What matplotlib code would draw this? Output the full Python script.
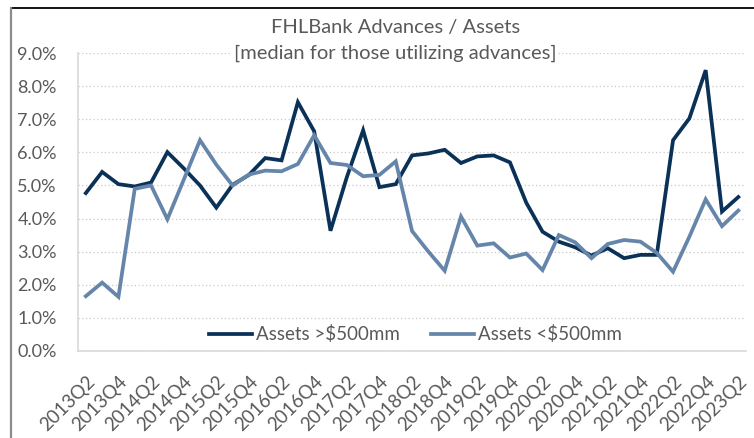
import matplotlib.pyplot as plt
import matplotlib.ticker as mtick
from matplotlib.lines import Line2D

plt.rcParams['font.family'] = ['Lato', 'DejaVu Sans']

quarters = []
for yr in range(2013, 2024):
    for q in range(1, 5):
        if (yr == 2013 and q < 2) or (yr == 2023 and q > 2):
            continue
        quarters.append('%dQ%d' % (yr, q))

big = [4.77, 5.41, 5.04, 4.97, 5.09, 6.01, 5.52, 5.00, 4.33, 5.02,
       5.32, 5.83, 5.76, 7.52, 6.64, 3.63, 5.25, 6.67, 4.95, 5.04,
       5.91, 5.97, 6.08, 5.68, 5.88, 5.91, 5.70, 4.48, 3.60, 3.30,
       3.13, 2.88, 3.10, 2.80, 2.90, 2.90, 6.37, 7.03, 8.49, 4.21, 4.65]
small = [1.65, 2.06, 1.63, 4.90, 5.00, 3.98, 5.17, 6.37, 5.63, 5.00,
         5.33, 5.45, 5.43, 5.65, 6.52, 5.68, 5.62, 5.28, 5.32, 5.73,
         3.62, 3.00, 2.42, 4.06, 3.18, 3.25, 2.82, 2.94, 2.44, 3.50,
         3.28, 2.80, 3.23, 3.35, 3.30, 2.96, 2.39, 3.45, 4.58, 3.77, 4.24]

dark = '#0a3157'
light = '#6586aa'
grey = '#595959'

fig = plt.figure(figsize=(7.54, 4.38), dpi=100)
ax = fig.add_axes([0.103, 0.1993, 0.887, 0.6790])

x = list(range(len(quarters)))
ax.plot(x, big, color=dark, lw=2.7, label='Assets >$500mm', solid_joinstyle='miter')
ax.plot(x, small, color=light, lw=2.7, label='Assets <$500mm', solid_joinstyle='miter')

ax.set_xlim(-0.5, len(quarters) - 0.5)
ax.set_ylim(0, 9)
ax.yaxis.set_major_locator(mtick.MultipleLocator(1))
ax.yaxis.set_major_formatter(mtick.FuncFormatter(lambda v, p: '%.1f%%' % v))
ax.grid(axis='y', color='#c8c8c8', linestyle=(0, (1, 2)), lw=0.9)
ax.set_axisbelow(True)

for s in ['top', 'right']:
    ax.spines[s].set_visible(False)
for s in ['left', 'bottom']:
    ax.spines[s].set_color('#d9d9d9')
    ax.spines[s].set_linewidth(1.2)

ax.set_xticks(x[::2])
ax.set_xticklabels(quarters[::2], rotation=45, ha='right', va='top',
                   rotation_mode='anchor', fontsize=13.5, color=grey)
ax.tick_params(axis='x', length=0, pad=16)
ax.tick_params(axis='y', length=0, pad=15, labelsize=13, labelcolor=grey)

leg = ax.legend(loc='center', bbox_to_anchor=(0.505, 0.055), ncol=2, frameon=False,
                fontsize=13.5, labelcolor=grey, handlelength=2.3,
                handletextpad=0.2, columnspacing=1.7)

fig.text(0.524, 0.938, 'FHLBank Advances / Assets', ha='center', va='center',
         fontsize=14.5, color=grey)
fig.text(0.524, 0.879, '[median for those utilizing advances]', ha='center', va='center',
         fontsize=14.5, color=grey, bbox=dict(facecolor='white', edgecolor='none', pad=1))

# chart frame (top and left edges)
fig.add_artist(Line2D([11/754, 1], [1 - 8/438, 1 - 8/438], color='black', lw=1.3))
fig.add_artist(Line2D([11/754, 11/754], [0, 1 - 8/438], color='#8c8c8c', lw=1.6))

fig.savefig('out.png', dpi=100)
